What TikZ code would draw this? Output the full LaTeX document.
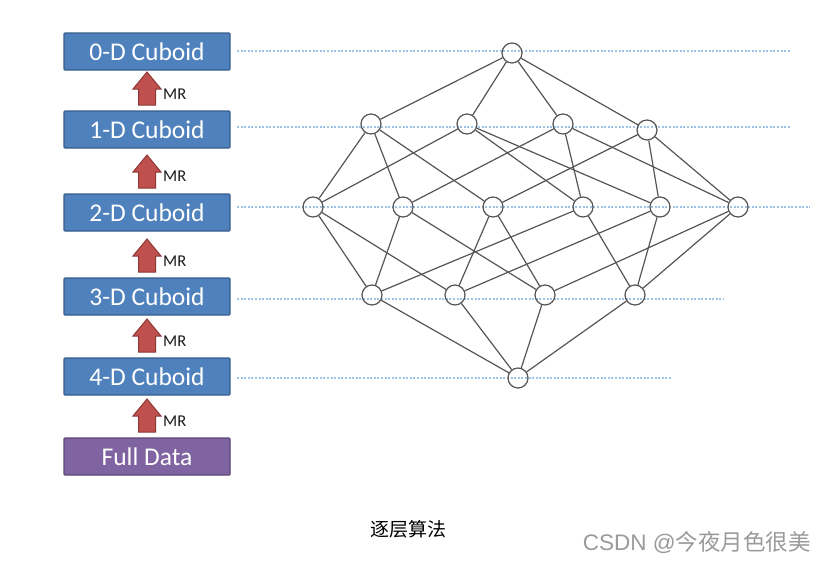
\documentclass[tikz,border=0pt]{standalone}
\usepackage{fontspec}
\setmainfont{Carlito}
\newfontfamily\cjkf{Noto Sans CJK SC}
\newfontfamily\arialf{Liberation Sans}
\definecolor{boxblue}{HTML}{4F81BD}
\definecolor{boxblueline}{HTML}{385D8A}
\definecolor{boxpurple}{HTML}{8064A2}
\definecolor{boxpurpleline}{HTML}{5C4776}
\definecolor{arrred}{HTML}{C0504D}
\definecolor{arrredline}{HTML}{8C3836}
\definecolor{guideblue}{HTML}{9DC3E6}
\definecolor{latgray}{HTML}{555555}
\definecolor{wmgray}{HTML}{9A9A9A}
\begin{document}
\begin{tikzpicture}[x=1pt,y=-1pt,
  cuboid/.style={draw=boxblueline, fill=boxblue, line width=1.4pt, rounded corners=1pt,
    minimum width=166pt, minimum height=37pt, inner sep=0pt, text=white,
    font=\fontsize{25.5}{27}\selectfont},
  fullbox/.style={cuboid, draw=boxpurpleline, fill=boxpurple},
  latnode/.style={circle, draw=latgray, line width=1.2pt, minimum size=20pt, inner sep=0pt},
  latedge/.style={draw=latgray, line width=1.2pt},
  guide/.style={draw=guideblue, line width=1.2pt, dash pattern=on 2pt off 1.6pt},
  mrlabel/.style={anchor=west, inner sep=0pt, text=black!90, font=\fontsize{16.5}{18}\selectfont},
  mrarrow/.pic={\draw[draw=arrredline, fill=arrred, line width=1pt, line join=miter]
     (-8.5,0) -- (-8.5,-16) -- (-14,-16) -- (0,-33) -- (14,-16) -- (8.5,-16) -- (8.5,0) -- cycle;}
]
\useasboundingbox (0,0) rectangle (825,563);

% left column boxes
\node[cuboid] (b0) at (147,51.5) {0-D Cuboid};
\node[cuboid] (b1) at (147,129.5) {1-D Cuboid};
\node[cuboid] (b2) at (147,212.5) {2-D Cuboid};
\node[cuboid] (b3) at (147,296.5) {3-D Cuboid};
\node[cuboid] (b4) at (147,376.5) {4-D Cuboid};
\node[fullbox] (bf) at (147,456.5) {Full Data};

% MR arrows
\pic at (147,105) {mrarrow};
\pic at (147,188) {mrarrow};
\pic at (147,272) {mrarrow};
\pic at (147,352) {mrarrow};
\pic at (147,432) {mrarrow};
\node[mrlabel] (m1) at (163,94) {MR};
\node[mrlabel] (m2) at (163,176) {MR};
\node[mrlabel] (m3) at (163,261) {MR};
\node[mrlabel] (m4) at (163,341) {MR};
\node[mrlabel] (m5) at (163,421) {MR};

% guide lines
\coordinate (g0s) at (237,51);  \coordinate (g0e) at (790,51);
\coordinate (g1s) at (237,127); \coordinate (g1e) at (790,127);
\coordinate (g2s) at (237,207); \coordinate (g2e) at (810,207);
\coordinate (g3s) at (237,299); \coordinate (g3e) at (724,299);
\coordinate (g4s) at (237,378); \coordinate (g4e) at (672,378);
\foreach \i in {0,...,4} {\draw[guide] (g\i s) -- (g\i e);}

% lattice nodes
\node[latnode] (P) at (512,53) {};
\node[latnode] (A) at (371,124) {};
\node[latnode] (B) at (467,124) {};
\node[latnode] (C) at (563,124) {};
\node[latnode] (D) at (647,130) {};
\node[latnode] (AB) at (313,207) {};
\node[latnode] (AC) at (403,207) {};
\node[latnode] (AD) at (493,207) {};
\node[latnode] (BC) at (583,207) {};
\node[latnode] (BD) at (660,207) {};
\node[latnode] (CD) at (738,207) {};
\node[latnode] (ABC) at (372,295) {};
\node[latnode] (ABD) at (455,295) {};
\node[latnode] (ACD) at (545,295) {};
\node[latnode] (BCD) at (635,295) {};
\node[latnode] (F) at (518,378) {};

% lattice edges
\foreach \u/\v in {P/A,P/B,P/C,P/D,
  A/AB,A/AC,A/AD,B/AB,B/BC,B/BD,C/AC,C/BC,C/CD,D/AD,D/BD,D/CD,
  AB/ABC,AB/ABD,AC/ABC,AC/ACD,AD/ABD,AD/ACD,BC/ABC,BC/BCD,BD/ABD,BD/BCD,CD/ACD,CD/BCD,
  ABC/F,ABD/F,ACD/F,BCD/F}
  {\draw[latedge] (\u) -- (\v);}

% caption and watermark
\node[font=\cjkf\fontsize{19}{21}\selectfont, text=black] (cap) at (408,529) {逐层算法};
\node[anchor=east, inner sep=0pt, text=wmgray, font=\fontsize{22.5}{24}\selectfont] (wm) at (811,543)
  {\arialf CSDN @\cjkf 今夜月色很美};
\end{tikzpicture}
\end{document}
